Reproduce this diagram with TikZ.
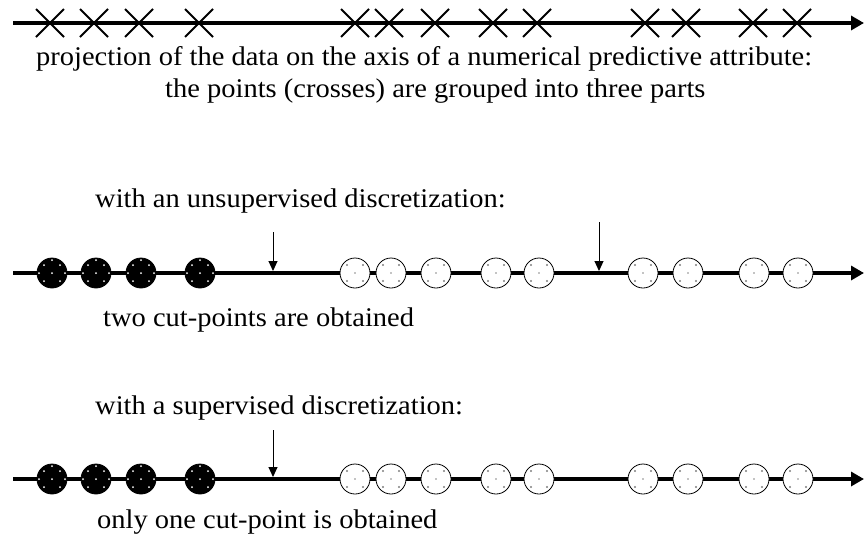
\documentclass[tikz,border=0pt]{standalone}
\usepackage{fontspec}
\setmainfont{Liberation Serif}[FakeStretch=1.055]
\usetikzlibrary{shapes.misc,arrows.meta}
\begin{document}
\begin{tikzpicture}[x=1pt,y=-1pt,
  axisline/.style={line width=4pt,-{Triangle[length=13pt,width=14pt]}},
  crossmark/.style={cross out,draw,line width=1.8pt,minimum size=28pt,inner sep=0pt,outer sep=0pt},
  fullpt/.style={circle,draw,fill=black,line width=0.8pt,minimum size=30pt,inner sep=0pt},
  emptypt/.style={circle,draw,fill=white,line width=0.8pt,minimum size=30pt,inner sep=0pt},
  cutarrow/.style={line width=1pt,-{Triangle[length=10pt,width=9pt]}},
  lbl/.style={anchor=base west,inner sep=0pt,font=\fontsize{27}{32}\selectfont}]
\useasboundingbox (0,0) rectangle (864,541);
% top axis with crosses
\coordinate (a0) at (13,23);
\coordinate (a1) at (864,23);
\draw[axisline] (a0) -- (a1);
\foreach \x [count=\i] in {50,94,139,199,355,389,435,493,537,645,686,753,797}
  \node[crossmark] (c\i) at (\x,23) {};
\node[lbl] (t1) at (36,65) {projection of the data on the axis of a numerical predictive attribute:};
\node[lbl] (t2) at (165,97) {the points (crosses) are grouped into three parts};
% unsupervised
\node[lbl] (t3) at (95,207) {with an unsupervised discretization:};
\coordinate (b0) at (13,273);
\coordinate (b1) at (864,273);
\draw[axisline] (b0) -- (b1);
\foreach \x [count=\i] in {52,96,141,200}{
  \node[fullpt] (bf\i) at (\x,273) {};
  \foreach \dx/\dy in {0/0,-8/-8,8/-8,-8/8,8/8,0/-13,-13/0,13/0}
    \fill[white] ([shift={(\dx,\dy)}]bf\i.center) circle (1pt);
}
\foreach \x [count=\i] in {355,391,436,496,539,643,688,754,798}{
  \node[emptypt] (be\i) at (\x,273) {};
  \foreach \dx/\dy in {-8/-8,8/-8,-8/8,8/8}
    \fill[gray] ([shift={(\dx,\dy)}]be\i.center) circle (1.1pt);
  \fill[black] (be\i.center) circle (0.6pt);
}
\coordinate (u1s) at (273,232);
\coordinate (u1e) at (273,271);
\coordinate (u2s) at (599,222);
\coordinate (u2e) at (599,271);
\draw[cutarrow] (u1s) -- (u1e);
\draw[cutarrow] (u2s) -- (u2e);
\node[lbl] (t4) at (103,326) {two cut-points are obtained};
% supervised
\node[lbl] (t5) at (95,414) {with a supervised discretization:};
\coordinate (d0) at (13,479);
\coordinate (d1) at (864,479);
\draw[axisline] (d0) -- (d1);
\foreach \x [count=\i] in {52,96,141,200}{
  \node[fullpt] (df\i) at (\x,479) {};
  \foreach \dx/\dy in {0/0,-8/-8,8/-8,-8/8,8/8,0/-13,-13/0,13/0}
    \fill[white] ([shift={(\dx,\dy)}]df\i.center) circle (1pt);
}
\foreach \x [count=\i] in {355,391,436,496,539,643,688,754,798}{
  \node[emptypt] (de\i) at (\x,479) {};
  \foreach \dx/\dy in {-8/-8,8/-8,-8/8,8/8}
    \fill[gray] ([shift={(\dx,\dy)}]de\i.center) circle (1.1pt);
  \fill[black] (de\i.center) circle (0.6pt);
}
\coordinate (s1s) at (273,430);
\coordinate (s1e) at (273,477);
\draw[cutarrow] (s1s) -- (s1e);
\node[lbl] (t6) at (97,528) {only one cut-point is obtained};
\end{tikzpicture}
\end{document}
